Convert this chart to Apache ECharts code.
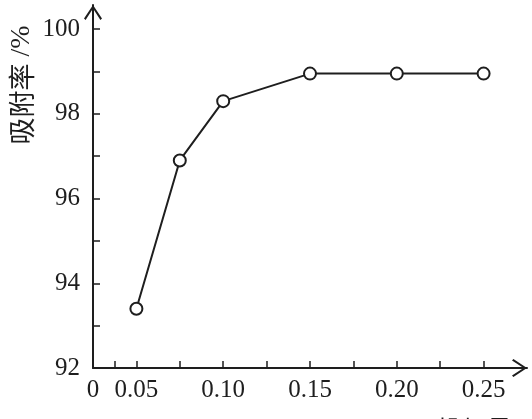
<!DOCTYPE html>
<html>
<head>
<meta charset="utf-8">
<script src="https://cdn.jsdelivr.net/npm/echarts@6/dist/echarts.min.js"></script>
<style>
  html, body { margin: 0; padding: 0; background: #fff; }
  #chart { width: 532px; height: 419px; }
</style>
</head>
<body>
<div id="chart"></div>
<script>
// 投加量 (x) 与 吸附率 (y)
var dosage = [0.05, 0.075, 0.10, 0.15, 0.20, 0.25];
var adsorption = [93.4, 96.9, 98.3, 98.95, 98.95, 98.95];

var xTicks = [0.0375, 0.05, 0.075, 0.10, 0.125, 0.15, 0.175, 0.20, 0.225, 0.25];
var xLabels = [0.025, 0.05, 0.10, 0.15, 0.20, 0.25];
var yTicks = [92, 93, 94, 95, 96, 97, 98, 99, 100];
var yLabels = [92, 94, 96, 98, 100];

var ink = "#1e1e1e";
var serif = "'Liberation Serif', 'Times New Roman', serif";
// 空心箭头
var arrowPath = "path://M9,0 L18,13.4 L16.4,14.8 L9,3.4 L1.6,14.8 L0,13.4 Z";

var points = [];
for (var i = 0; i < dosage.length; i++) {
  points.push([dosage[i], adsorption[i]]);
}

var myChart = echarts.init(document.getElementById("chart"));
var option = {
  animation: false,
  backgroundColor: "#fff",
  grid: { left: 93, right: 5, top: 5, bottom: 51 },
  xAxis: {
    type: "value",
    min: 0.025,
    max: 0.275,
    splitLine: { show: false },
    axisLine: {
      lineStyle: { color: ink, width: 2 },
      symbol: ["none", arrowPath],
      symbolSize: [19, 15],
      symbolOffset: [0, -7.5],
    },
    axisTick: {
      inside: true,
      length: 7,
      lineStyle: { color: ink, width: 1.5 },
      customValues: xTicks,
    },
    axisLabel: {
      customValues: xLabels,
      margin: 10,
      color: ink,
      fontFamily: serif,
      fontSize: 25,
      formatter: function (v) {
        return Math.abs(v - 0.025) < 1e-6 ? "0" : v.toFixed(2);
      },
    },
  },
  yAxis: {
    type: "value",
    min: 92,
    max: 100.57,
    splitLine: { show: false },
    axisLine: {
      lineStyle: { color: ink, width: 2 },
      symbol: ["none", arrowPath],
      symbolSize: [18, 15],
      symbolOffset: [0, -7.5],
    },
    axisTick: {
      inside: true,
      length: 7,
      lineStyle: { color: ink, width: 1.5 },
      customValues: yTicks,
    },
    axisLabel: {
      customValues: yLabels,
      margin: 13,
      color: ink,
      fontFamily: serif,
      fontSize: 25,
    },
  },
  graphic: {
    elements: [
      {
        type: "text",
        x: 22,
        y: 85,
        rotation: Math.PI / 2,
        style: {
          text: "{c|吸附率}{s| /%}",
          align: "center",
          verticalAlign: "middle",
          fill: ink,
          rich: {
            c: { fontFamily: "'Noto Sans CJK SC'", fontSize: 27, fill: ink },
            s: { fontFamily: serif, fontSize: 28, fill: ink },
          },
        },
      },
      {
        type: "text",
        x: 437,
        y: 417,
        style: {
          text: "投加量/g",
          fontFamily: "'Noto Sans CJK SC'",
          fontSize: 25,
          fill: ink,
        },
      },
    ],
  },
  series: [
    {
      type: "line",
      data: points,
      symbol: "emptyCircle",
      symbolSize: 12,
      lineStyle: { color: ink, width: 2 },
      itemStyle: { color: ink, borderWidth: 1.6 },
    },
  ],
};
myChart.setOption(option);
</script>
</body>
</html>
